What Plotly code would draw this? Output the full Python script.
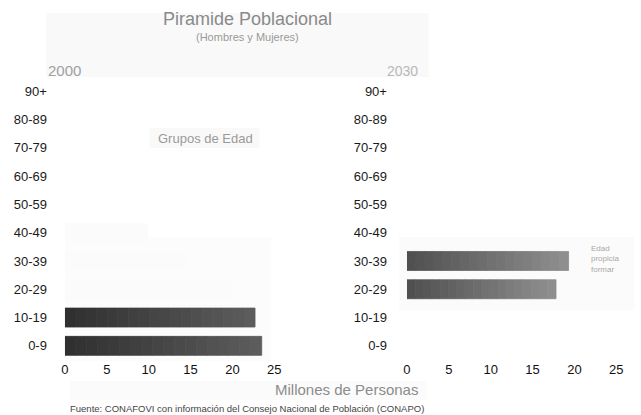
import plotly.graph_objects as go

# Age groups (bottom to top) and population in millions
grupos = ["0-9", "10-19", "20-29", "30-39", "40-49", "50-59", "60-69", "70-79", "80-89", "90+"]
pob_2000 = [23.5, 22.7, None, None, None, None, None, None, None, None]
pob_2000_tenue = [None, None, 19.8, 14.5, 9.9, None, None, None, None, None]
pob_2030 = [None, None, 17.8, 19.3, None, None, None, None, None, None]
ticks_x = [0, 5, 10, 15, 20, 25]

W, H = 641, 415
FONT = "Liberation Sans, Arial, sans-serif"


def px(x):
    return x / W


def py(y):
    return 1 - y / H


def mezcla(c1, c2, t):
    return "#%02x%02x%02x" % tuple(int(round(a + (b - a) * t)) for a, b in zip(c1, c2))


fig = go.Figure()

# Horizontal bars drawn as stacked slices so each bar fades from dark to light
N = 18


def barras_degradado(valores, c_ini, c_fin, xa, ya):
    for i in range(N):
        xs, bs = [], []
        for v in valores:
            if v is None:
                xs.append(None)
                bs.append(None)
            else:
                xs.append(v / N)
                bs.append(v * i / N)
        col = mezcla(c_ini, c_fin, i / (N - 1))
        fig.add_trace(go.Bar(
            y=grupos, x=xs, base=bs, orientation="h",
            marker=dict(color=col, line=dict(width=0.8, color=col)),
            xaxis=xa, yaxis=ya, showlegend=False, hoverinfo="skip",
        ))


# faded 2000 bars
fig.add_trace(go.Bar(
    y=grupos, x=pob_2000_tenue, orientation="h",
    marker=dict(color="#fbfbfb", line=dict(width=0)),
    xaxis="x", yaxis="y", showlegend=False, hoverinfo="skip",
))
barras_degradado(pob_2000, (0x30, 0x30, 0x30), (0x5c, 0x5c, 0x5c), "x", "y")
barras_degradado(pob_2030, (0x50, 0x50, 0x50), (0x8e, 0x8e, 0x8e), "x2", "y2")

eje_x = dict(range=[0, 25], tickvals=ticks_x, showgrid=False, zeroline=False,
             showline=False, ticks="", fixedrange=True,
             tickfont=dict(family=FONT, size=13, color="#111111"))
eje_y = dict(type="category", categoryorder="array", categoryarray=grupos,
             range=[-0.5, 9.5], showgrid=False, zeroline=False, showline=False,
             ticks="", tickfont=dict(family=FONT, size=13, color="#1a1a1a"))

fig.update_layout(
    width=W, height=H,
    margin=dict(l=0, r=0, t=0, b=0),
    paper_bgcolor="white", plot_bgcolor="rgba(0,0,0,0)",
    barmode="overlay", bargap=0.33,
    showlegend=False,
    xaxis=dict(domain=[px(62), px(275)], anchor="y", **eje_x),
    yaxis=dict(domain=[py(360), py(77)], anchor="x", ticklabelstandoff=17, **eje_y),
    xaxis2=dict(domain=[px(410), px(623)], anchor="y2", **eje_x),
    yaxis2=dict(domain=[py(360), py(77)], anchor="x2", ticklabelstandoff=19, **eje_y),
)

# light panels behind the titles and plot regions
fondos = [
    (43, 13, 432, 77, "#f9f9f9"),
    (62, 237, 272, 361, "#fcfcfc"),
    (402, 237, 641, 310, "#fbfbfb"),
    (67, 381, 430, 400, "#fbfbfb"),
    (148, 128, 260, 148, "#f9f9f9"),
]
shapes = []
for x0, y0, x1, y1, c in fondos:
    shapes.append(dict(type="rect", xref="paper", yref="paper", layer="below",
                       x0=px(x0), x1=px(x1), y0=py(y1), y1=py(y0),
                       fillcolor=c, line=dict(width=0)))
fig.update_layout(shapes=shapes)


def texto(t, x, y, size, color, xanchor="center", yanchor="middle", **kw):
    fig.add_annotation(text=t, x=px(x), y=py(y), xref="paper", yref="paper",
                       xanchor=xanchor, yanchor=yanchor, showarrow=False,
                       font=dict(family=FONT, size=size, color=color), **kw)


texto("Piramide Poblacional", 248, 19, 18, "#8a8a8a")
texto("(Hombres y Mujeres)", 248, 37, 11, "#9a9a9a")
texto("2000", 43, 71, 15, "#a0a0a0", xanchor="left")
texto("2030", 388, 71, 14, "#b8b8b8", xanchor="left")
texto("Grupos de Edad", 205, 138, 13, "#9a9a9a")
texto("Millones de Personas", 348, 389, 15, "#8c8c8c")
texto("Fuente: CONAFOVI con información del Consejo Nacional de Población (CONAPO)",
      65, 408, 9.5, "#444444", xanchor="left")
texto("Edad<br>propicia<br>formar", 595, 259, 8, "#a8a8a8",
      xanchor="left", align="left")

fig.write_html("out.html")
